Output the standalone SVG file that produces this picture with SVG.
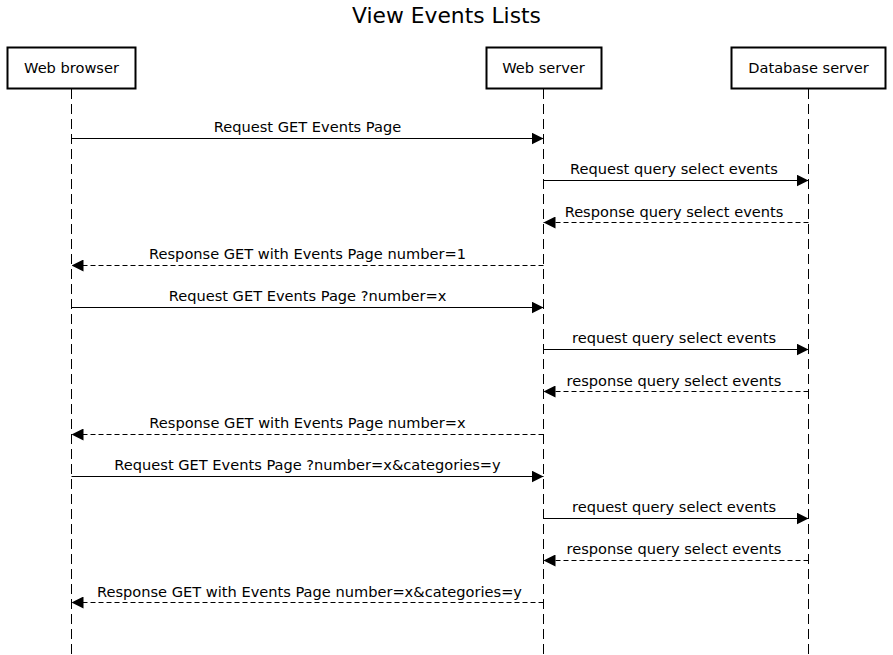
<svg xmlns="http://www.w3.org/2000/svg" width="893" height="655" viewBox="0 0 893 655">
<style>
text{font-family:"DejaVu Sans","Liberation Sans",sans-serif;fill:#000}
.title{font-size:21.8px;text-anchor:middle}
.box{fill:#fff;stroke:#000;stroke-width:2}
.lbl{font-size:14.6px;text-anchor:middle}
.life{stroke:#000;stroke-width:1;stroke-dasharray:10,5;fill:none}
.msg{stroke:#000;stroke-width:1;fill:none}
.ret{stroke:#000;stroke-width:1;fill:none;stroke-dasharray:5,3}
.mt{font-size:14.6px;text-anchor:middle}
</style>
<defs>
<marker id="ah" markerWidth="12" markerHeight="12" viewBox="0 0 12 12" refX="12" refY="6" orient="auto" markerUnits="userSpaceOnUse">
<path d="M0,0 L12,6 L0,12 Z" fill="#000"/>
</marker>
</defs>
<rect width="893" height="655" fill="#fff"/>
<text class="title" x="446.5" y="23">View Events Lists</text>
<g id="lifelines">
<line class="life" x1="71.5" y1="89" x2="71.5" y2="655"/>
<line class="life" x1="543.5" y1="89" x2="543.5" y2="655"/>
<line class="life" x1="808.5" y1="89" x2="808.5" y2="655"/>
</g>
<g id="browser"><rect class="box" x="7.5" y="47.5" width="128" height="41"/><text class="lbl" x="71.5" y="73">Web browser</text></g>
<g id="webserver"><rect class="box" x="486.5" y="47.5" width="115" height="41"/><text class="lbl" x="543.5" y="73">Web server</text></g>
<g id="dbserver"><rect class="box" x="731.5" y="47.5" width="154" height="41"/><text class="lbl" x="808.5" y="73">Database server</text></g>
<g id="connectors">
<line class="msg" x1="71.5" y1="138.5" x2="543.5" y2="138.5" marker-end="url(#ah)"/>
<text class="mt" x="307.5" y="132">Request GET Events Page</text>
<line class="msg" x1="543.5" y1="180.5" x2="808.5" y2="180.5" marker-end="url(#ah)"/>
<text class="mt" x="674" y="174">Request query select events</text>
<line class="ret" x1="808.5" y1="222.5" x2="543.5" y2="222.5" marker-end="url(#ah)"/>
<text class="mt" x="674" y="217">Response query select events</text>
<line class="ret" x1="543.5" y1="265.5" x2="71.5" y2="265.5" marker-end="url(#ah)"/>
<text class="mt" x="307.5" y="259">Response GET with Events Page number=1</text>
<line class="msg" x1="71.5" y1="307.5" x2="543.5" y2="307.5" marker-end="url(#ah)"/>
<text class="mt" x="307.5" y="301">Request GET Events Page ?number=x</text>
<line class="msg" x1="543.5" y1="349.5" x2="808.5" y2="349.5" marker-end="url(#ah)"/>
<text class="mt" x="674" y="343">request query select events</text>
<line class="ret" x1="808.5" y1="391.5" x2="543.5" y2="391.5" marker-end="url(#ah)"/>
<text class="mt" x="674" y="386">response query select events</text>
<line class="ret" x1="543.5" y1="434.5" x2="71.5" y2="434.5" marker-end="url(#ah)"/>
<text class="mt" x="307.5" y="428">Response GET with Events Page number=x</text>
<line class="msg" x1="71.5" y1="476.5" x2="543.5" y2="476.5" marker-end="url(#ah)"/>
<text class="mt" x="307.5" y="470">Request GET Events Page ?number=x&amp;categories=y</text>
<line class="msg" x1="543.5" y1="518.5" x2="808.5" y2="518.5" marker-end="url(#ah)"/>
<text class="mt" x="674" y="512">request query select events</text>
<line class="ret" x1="808.5" y1="560.5" x2="543.5" y2="560.5" marker-end="url(#ah)"/>
<text class="mt" x="674" y="554">response query select events</text>
<line class="ret" x1="543.5" y1="602.5" x2="71.5" y2="602.5" marker-end="url(#ah)"/>
<text class="mt" x="309.5" y="597">Response GET with Events Page number=x&amp;categories=y</text>
</g>
</svg>
